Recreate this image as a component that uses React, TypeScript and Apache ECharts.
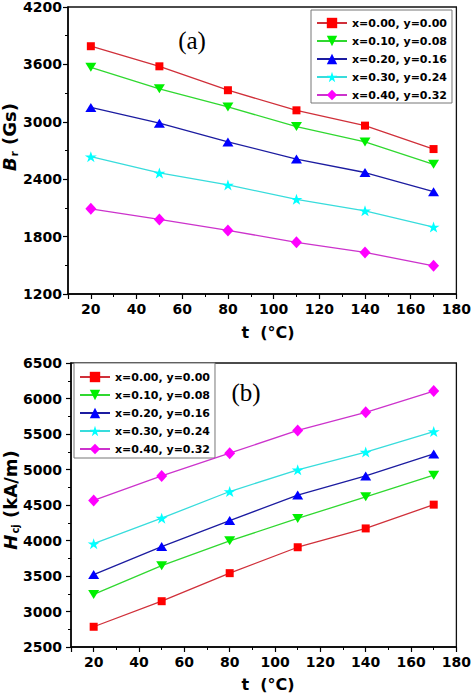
import React, { useEffect, useRef } from "react";
import * as echarts from "echarts";

const temps = [20, 50, 80, 110, 140, 170];
const seriesNames = [
  "x=0.00, y=0.00",
  "x=0.10, y=0.08",
  "x=0.20, y=0.16",
  "x=0.30, y=0.24",
  "x=0.40, y=0.32",
];

// Panel (a): Br (Gs)
const br000 = [3790, 3580, 3330, 3120, 2960, 2715];
const br010 = [3570, 3345, 3155, 2950, 2790, 2555];
const br020 = [3150, 2985, 2790, 2610, 2470, 2270];
const br030 = [2635, 2465, 2340, 2190, 2070, 1900];
const br040 = [2090, 1980, 1865, 1740, 1635, 1495];

// Panel (b): Hcj (kA/m)
const hc000 = [2785, 3145, 3540, 3905, 4170, 4505];
const hc010 = [3240, 3645, 3995, 4310, 4615, 4920];
const hc020 = [3520, 3915, 4280, 4640, 4910, 5220];
const hc030 = [3955, 4315, 4690, 4995, 5245, 5535];
const hc040 = [4565, 4910, 5230, 5550, 5805, 6105];

const brSets = [br000, br010, br020, br030, br040];
const hcSets = [hc000, hc010, hc020, hc030, hc040];

const STAR =
  "path://M0,-100 L22.45,-30.9 L95.1,-30.9 L36.3,11.8 L58.8,80.9 L0,38.2 L-58.8,80.9 L-36.3,11.8 L-95.1,-30.9 L-22.45,-30.9 Z";

const styles = [
  { mark: "#ff0000", line: "#d0303a", symbol: "rect", size: [8, 8], rotate: 0 },
  { mark: "#00f000", line: "#30d830", symbol: "triangle", size: [11, 9], rotate: 180 },
  { mark: "#0000ff", line: "#1c1ca0", symbol: "triangle", size: [11, 9], rotate: 0 },
  { mark: "#00ffff", line: "#38dcdc", symbol: STAR, size: [12, 11], rotate: 0 },
  { mark: "#ff00ff", line: "#cc33cc", symbol: "diamond", size: [11, 12], rotate: 0 },
];

const FONT = "DejaVu Sans";

function makeSeries(sets: number[][], axisIndex: number) {
  return sets.map((vals, i) => ({
    name: seriesNames[i],
    type: "line",
    xAxisIndex: axisIndex,
    yAxisIndex: axisIndex,
    data: temps.map((t, j) => [t, vals[j]]),
    symbol: styles[i].symbol,
    symbolSize: styles[i].size,
    symbolRotate: styles[i].rotate,
    itemStyle: { color: styles[i].mark, opacity: 1 },
    lineStyle: { color: styles[i].line, width: 1.3 },
    emphasis: { disabled: true },
    z: 10 - i,
  }));
}

export default function App() {
  const ref = useRef<HTMLDivElement>(null);
  useEffect(() => {
    if (!ref.current) return;
    const chart = echarts.init(ref.current, undefined, { renderer: "svg" });
    const axisCommon = {
      axisLine: { show: true, lineStyle: { color: "#000", width: 1.5 } },
      axisTick: { show: true, inside: false, length: 5, lineStyle: { color: "#000", width: 1.2 } },
      minorTick: { show: true, splitNumber: 2, length: 3, lineStyle: { color: "#000", width: 1 } },
      splitLine: { show: false },
      minorSplitLine: { show: false },
    };
    const labelStyle = { color: "#000", fontFamily: FONT, fontWeight: "bold", fontSize: 14 };
    const xAxis = [0, 1].map((i) => ({
      type: "value",
      gridIndex: i,
      min: 10,
      max: 180,
      splitNumber: 8,
      ...axisCommon,
      axisLabel: {
        ...labelStyle,
        margin: 8,
        formatter: (v: number) => (v % 20 === 0 ? String(v) : ""),
      },
    }));
    const yAxis = [
      {
        type: "value",
        gridIndex: 0,
        min: 1200,
        max: 4200,
        interval: 600,
        ...axisCommon,
        axisLabel: { ...labelStyle, margin: 6, formatter: (v: number) => String(v) },
      },
      {
        type: "value",
        gridIndex: 1,
        min: 2500,
        max: 6500,
        interval: 500,
        ...axisCommon,
        axisLabel: { ...labelStyle, margin: 9, formatter: (v: number) => String(v) },
      },
    ];
    const legendCommon = {
      orient: "vertical",
      data: seriesNames,
      backgroundColor: "#fff",
      borderColor: "#777",
      borderWidth: 1,
      borderRadius: 0,
      itemWidth: 30,
      itemHeight: 13,
      itemGap: 4,
      selectedMode: false,
      textStyle: { color: "#000", fontFamily: FONT, fontWeight: "bold", fontSize: 11, lineHeight: 14 },
    };
    const titleRich = {
      i: { fontFamily: FONT, fontWeight: "bold", fontStyle: "italic", fontSize: 18, color: "#000" },
      s: { fontFamily: FONT, fontWeight: "bold", fontSize: 10, color: "#000", padding: [10, 0, 0, 1] },
      n: { fontFamily: FONT, fontWeight: "bold", fontSize: 18, color: "#000" },
    };
    const xTitle = {
      text: "t  (°C)",
      fontFamily: FONT,
      fontWeight: "bold",
      fontSize: 16,
      fill: "#000",
      align: "center",
      verticalAlign: "middle",
    };
    const option = {
      animation: false,
      backgroundColor: "#fff",
      grid: [
        { left: 68, top: 7, width: 390, height: 287, show: true, borderColor: "#111", borderWidth: 1.3, backgroundColor: "transparent" },
        { left: 71, top: 363, width: 388, height: 284, show: true, borderColor: "#111", borderWidth: 1.3, backgroundColor: "transparent" },
      ],
      xAxis,
      yAxis,
      legend: [
        { ...legendCommon, left: 311, top: 10, padding: [6, 5, 1, 5] },
        { ...legendCommon, left: 74, top: 363, padding: [7, 5, 2, 5] },
      ],
      series: [...makeSeries(brSets, 0), ...makeSeries(hcSets, 1)],
      graphic: [
        {
          type: "text",
          x: 9,
          y: 137,
          rotation: Math.PI / 2,
          style: {
            text: "{i|B}{s|r}{n| (Gs)}",
            rich: titleRich,
            align: "center",
            verticalAlign: "middle",
          },
        },
        {
          type: "text",
          x: 10,
          y: 500,
          rotation: Math.PI / 2,
          style: {
            text: "{i|H}{s|cj}{n| (kA/m)}",
            rich: titleRich,
            align: "center",
            verticalAlign: "middle",
          },
        },
        { type: "text", x: 268, y: 332, style: xTitle },
        { type: "text", x: 268, y: 684, style: xTitle },
        {
          type: "text",
          x: 192,
          y: 40,
          style: {
            text: "(a)",
            fontFamily: "Liberation Serif",
            fontSize: 25,
            fill: "#000",
            align: "center",
            verticalAlign: "middle",
          },
        },
        {
          type: "text",
          x: 246,
          y: 392,
          style: {
            text: "(b)",
            fontFamily: "Liberation Serif",
            fontSize: 25,
            fill: "#000",
            align: "center",
            verticalAlign: "middle",
          },
        },
      ],
    };
    chart.setOption(option as any);
    return () => chart.dispose();
  }, []);
  return (
    <div
      ref={ref}
      style={{ position: "absolute", left: 0, top: 0, width: 474, height: 694, background: "#fff" }}
    />
  );
}
